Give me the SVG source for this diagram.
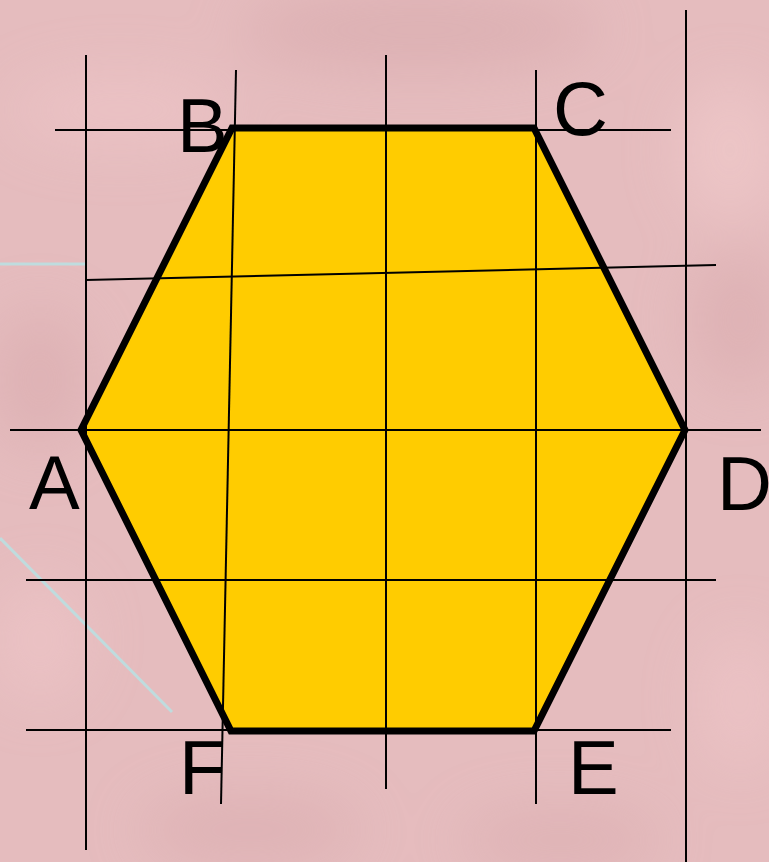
<svg xmlns="http://www.w3.org/2000/svg" width="769" height="862" viewBox="0 0 769 862">
<style>
.grid{stroke:#000;stroke-width:2;fill:none}
.aux{stroke:#BFDCDE;stroke-width:3;fill:none}
.lbl{font-family:"Liberation Sans",Arial,sans-serif;font-size:76px;fill:#000}
.hex{fill:#FFCC00;stroke:#000;stroke-width:7;stroke-linejoin:miter}
</style>
<defs>
<filter id="blur" x="-30%" y="-30%" width="160%" height="160%"><feGaussianBlur stdDeviation="28"/></filter>
</defs>
<g id="background">
<rect x="0" y="0" width="769" height="862" fill="#E5BCBE"/>
<g filter="url(#blur)" opacity="0.7">
<ellipse cx="420" cy="30" rx="180" ry="40" fill="#D9ACAF"/>
<ellipse cx="120" cy="110" rx="110" ry="35" fill="#EEC5C7"/>
<ellipse cx="730" cy="150" rx="50" ry="70" fill="#F0C9CA"/>
<ellipse cx="740" cy="320" rx="50" ry="70" fill="#DBAEB1"/>
<ellipse cx="40" cy="380" rx="50" ry="70" fill="#DBAEB1"/>
<ellipse cx="40" cy="640" rx="45" ry="60" fill="#EEC5C7"/>
<ellipse cx="250" cy="830" rx="110" ry="35" fill="#DBAEB1"/>
<ellipse cx="560" cy="840" rx="100" ry="30" fill="#DBAEB1"/>
<ellipse cx="740" cy="700" rx="40" ry="70" fill="#EEC5C7"/>
</g>
</g>
<g id="aux-lines">
<line class="aux" x1="0" y1="264" x2="85" y2="264"/>
<line class="aux" x1="0" y1="538" x2="172" y2="712"/>
</g>
<g id="hexagon">
<polygon class="hex" points="81,430 232,128 534,128 685,430 534,731 231,731"/>
</g>
<g id="connectors">
<line class="grid" x1="86" y1="55" x2="86" y2="850"/>
<line class="grid" x1="236" y1="70" x2="221" y2="804"/>
<line class="grid" x1="386" y1="55" x2="386" y2="789"/>
<line class="grid" x1="536" y1="70" x2="536" y2="804"/>
<line class="grid" x1="686" y1="10" x2="686" y2="862"/>
<line class="grid" x1="55" y1="130" x2="671" y2="130"/>
<line class="grid" x1="86" y1="280" x2="716" y2="265"/>
<line class="grid" x1="10" y1="430" x2="761" y2="430"/>
<line class="grid" x1="26" y1="580" x2="716" y2="580"/>
<line class="grid" x1="26" y1="730" x2="671" y2="730"/>
</g>
<g id="label-A"><text class="lbl" x="29" y="509">A</text></g>
<g id="label-B"><text class="lbl" x="177" y="152">B</text></g>
<g id="label-C"><text class="lbl" x="553" y="135">C</text></g>
<g id="label-D"><text class="lbl" x="717" y="510">D</text></g>
<g id="label-E"><text class="lbl" x="568" y="794">E</text></g>
<g id="label-F"><text class="lbl" x="179" y="794">F</text></g>
</svg>
